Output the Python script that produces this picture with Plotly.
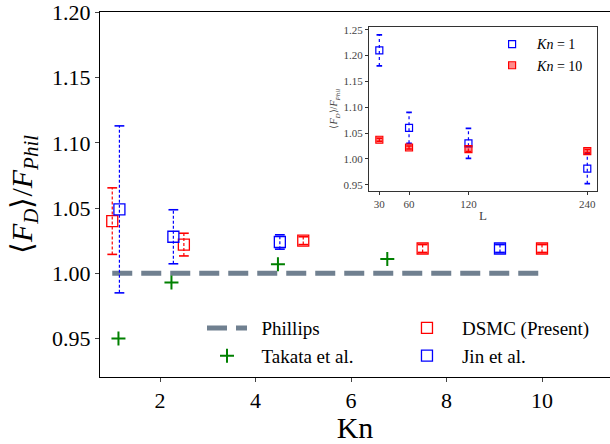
import plotly.graph_objects as go

# ---- main panel data: drag ratio vs Knudsen number ----
kn_dsmc = [1.0, 2.5, 5.0, 7.5, 10.0]
fd_dsmc = [1.040, 1.022, 1.025, 1.019, 1.019]
err_dsmc = [0.0255, 0.0087, 0.003, 0.003, 0.003]

kn_jin = [1.15, 2.28, 4.51, 9.12]
fd_jin = [1.049, 1.028, 1.024, 1.019]
err_jin = [0.064, 0.0207, 0.0055, 0.003]

kn_takata = [1.13, 2.24, 4.47, 6.76]
fd_takata = [0.950, 0.993, 1.007, 1.011]

kn_phillips = [1.0, 10.0]
fd_phillips = [1.0, 1.0]

# ---- inset data: drag ratio vs domain size L ----
L_vals = [30, 60, 120, 240]
fd_kn1 = [1.210, 1.060, 1.030, 0.981]
err_kn1 = [0.030, 0.030, 0.029, 0.029]
fd_kn10 = [1.037, 1.022, 1.019, 1.015]
err_kn10 = [0.003, 0.003, 0.005, 0.003]

FONT = "Liberation Serif"
RED = "#ff0000"
BLUE = "#0000ff"
GREEN = "#008000"
SLATE = "#708090"

fig = go.Figure()


def add_errorbars(x, y, e, color, dash, width, cap, xa="x", ya="y"):
    xs, ys = [], []
    for xi, yi, ei in zip(x, y, e):
        xs += [xi, xi, None]
        ys += [yi - ei, yi + ei, None]
    fig.add_trace(go.Scatter(x=xs, y=ys, mode="lines", xaxis=xa, yaxis=ya,
                             line=dict(color=color, width=width, dash=dash),
                             showlegend=False, hoverinfo="skip"))
    cx = list(x) + list(x)
    cy = [yi - ei for yi, ei in zip(y, e)] + [yi + ei for yi, ei in zip(y, e)]
    fig.add_trace(go.Scatter(x=cx, y=cy, mode="markers", xaxis=xa, yaxis=ya,
                             marker=dict(symbol="line-ew", size=cap, color=color,
                                         line=dict(color=color, width=width + 0.4)),
                             showlegend=False, hoverinfo="skip"))


# Phillips reference line
fig.add_trace(go.Scatter(x=kn_phillips, y=fd_phillips, mode="lines",
                         name="\u00a0\u00a0Phillips", legend="legend",
                         line=dict(color=SLATE, width=5, dash="20px,9px")))

# Takata et al.
fig.add_trace(go.Scatter(x=kn_takata, y=fd_takata, mode="markers",
                         name="\u00a0\u00a0Takata et al.", legend="legend",
                         marker=dict(symbol="cross-thin", size=10, color=GREEN,
                                     line=dict(color=GREEN, width=2))))

# DSMC (present) and Jin et al. with dashed error bars
add_errorbars(kn_dsmc, fd_dsmc, err_dsmc, RED, "3px,2px", 1.2, 7)
add_errorbars(kn_jin, fd_jin, err_jin, BLUE, "3px,2px", 1.2, 7)
fig.add_trace(go.Scatter(x=kn_dsmc, y=fd_dsmc, mode="markers",
                         name="DSMC (Present)", legend="legend3",
                         marker=dict(symbol="square-open", size=11, color=RED,
                                     line=dict(color=RED, width=1.3))))
fig.add_trace(go.Scatter(x=kn_jin, y=fd_jin, mode="markers",
                         name="Jin et al.", legend="legend3",
                         marker=dict(symbol="square-open", size=11, color=BLUE,
                                     line=dict(color=BLUE, width=1.3))))

# inset
add_errorbars(L_vals, fd_kn1, err_kn1, BLUE, "dot", 1.2, 4, "x2", "y2")
add_errorbars(L_vals, fd_kn10, err_kn10, RED, "dot", 1.2, 4, "x2", "y2")
fig.add_trace(go.Scatter(x=L_vals, y=fd_kn1, mode="markers", xaxis="x2", yaxis="y2",
                         name="<i>Kn</i> = 1", legend="legend2",
                         marker=dict(symbol="square-open", size=7, color=BLUE,
                                     line=dict(color=BLUE, width=1.2))))
fig.add_trace(go.Scatter(x=L_vals, y=fd_kn10, mode="markers", xaxis="x2", yaxis="y2",
                         name="<i>Kn</i> = 10", legend="legend2",
                         marker=dict(symbol="square", size=7, color="rgba(255,0,0,0.45)",
                                     line=dict(color=RED, width=1.2))))

ytitle = "\u27e8<i>F</i><sub><i>D</i></sub>\u27e9/<i>F</i><sub><i>Phil</i></sub>"

fig.update_layout(
    width=610, height=444,
    margin=dict(l=100, r=0, t=7, b=67),
    paper_bgcolor="white", plot_bgcolor="white",
    font=dict(family=FONT, color="black"),
    xaxis=dict(range=[0.7435, 11.424], tickvals=[2, 4, 6, 8, 10],
               showgrid=False, zeroline=False, showline=True, linecolor="black",
               linewidth=1, mirror=True, ticks="outside", ticklen=4,
               tickfont=dict(size=22), title=dict(text="Kn", font=dict(size=30), standoff=8)),
    yaxis=dict(range=[0.9205, 1.2003], tickvals=[0.95, 1.0, 1.05, 1.1, 1.15, 1.2],
               tickformat=".2f", ticklabeloverflow="allow",
               showgrid=False, zeroline=False, showline=True, linecolor="black",
               linewidth=1, ticks="outside", ticklen=4,
               tickfont=dict(size=22), title=dict(text=ytitle, font=dict(size=30), standoff=10)),
    xaxis2=dict(domain=[0.5275, 0.9745], anchor="y2", range=[19.6, 249.8],
                tickvals=L_vals, showgrid=False, zeroline=False, showline=True,
                linecolor="#333", linewidth=1.2, mirror=True, ticks="outside", ticklen=3,
                tickcolor="#333", tickfont=dict(size=11, color="#444"),
                title=dict(text="L", font=dict(size=13, color="#444"), standoff=2)),
    yaxis2=dict(domain=[0.5108, 0.9595], anchor="x2", range=[0.9386, 1.2557],
                dtick=0.05, tick0=0.95, tickformat=".2f", showgrid=False, zeroline=False,
                showline=True, linecolor="#333", linewidth=1.2, mirror=True,
                ticks="outside", ticklen=3, tickcolor="#333",
                tickfont=dict(size=11, color="#444"),
                title=dict(text=ytitle, font=dict(size=10, color="#444"), standoff=3)),
    legend=dict(x=0.2, y=0.186, xanchor="left", yanchor="top", itemwidth=40,
                bgcolor="rgba(0,0,0,0)", font=dict(size=19)),
    legend3=dict(x=0.5725, y=0.186, xanchor="left", yanchor="top", itemwidth=60,
                 bgcolor="rgba(0,0,0,0)", font=dict(size=19)),
    legend2=dict(x=0.759, y=0.955, xanchor="left", yanchor="top", itemwidth=40,
                 bgcolor="rgba(0,0,0,0)", font=dict(size=14)),
)

fig.write_html("out.html")
